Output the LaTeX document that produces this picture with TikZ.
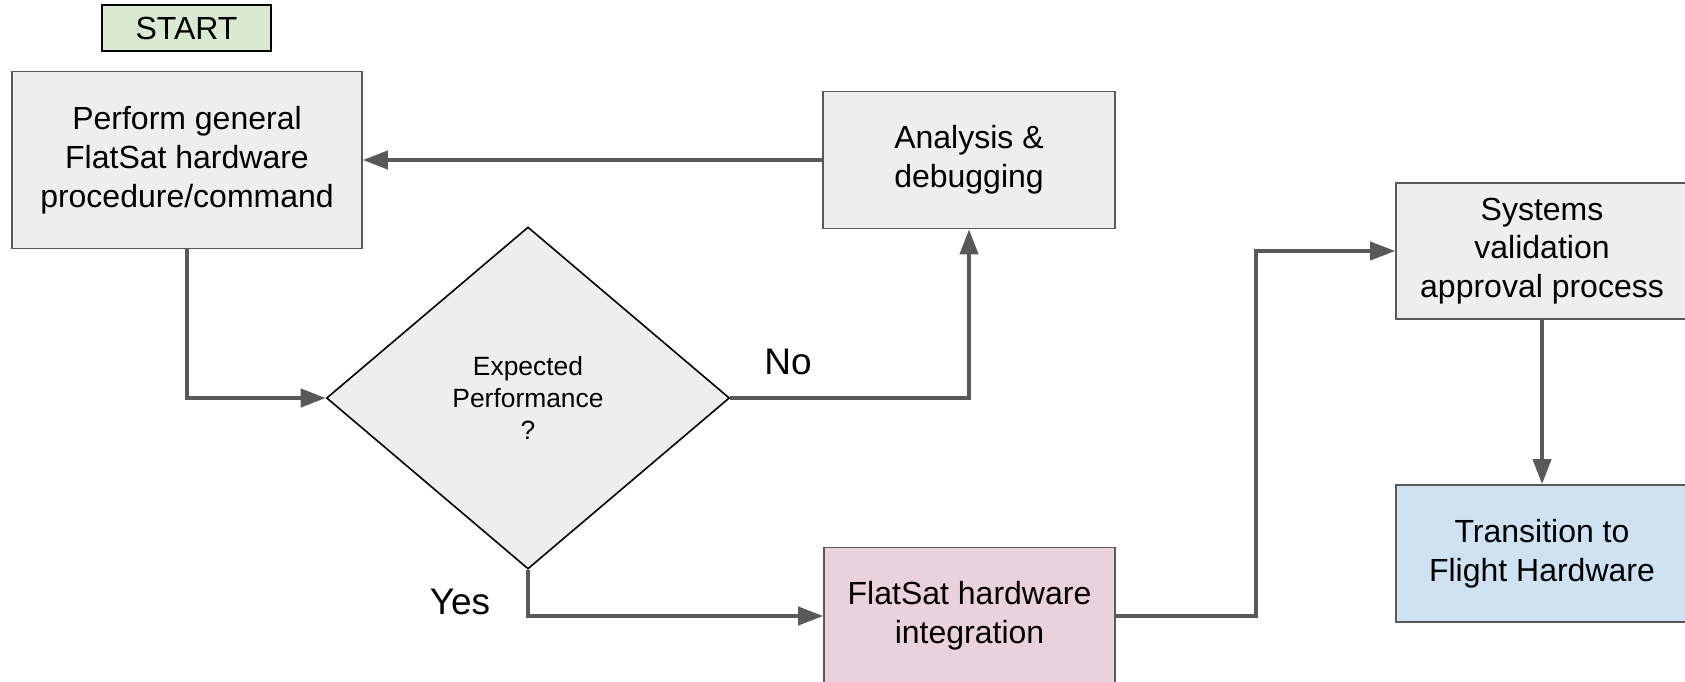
\documentclass[tikz,border=0pt]{standalone}
\usepackage{fontspec}
\setmainfont{Liberation Sans}
\usepackage{tikz}
\usetikzlibrary{shapes.geometric}
\usetikzlibrary{arrows.meta}
\usetikzlibrary{calc}

\definecolor{boxgray}{HTML}{EEEEEE}
\definecolor{linegray}{HTML}{595959}
\definecolor{startgreen}{HTML}{D9EAD3}
\definecolor{intpink}{HTML}{EAD1DC}
\definecolor{flightblue}{HTML}{CFE2F3}

\begin{document}
\begin{tikzpicture}[x=0.5pt,y=-0.5pt]
    \newcommand{\boxfont}{\fontsize{16pt}{19.4pt}\selectfont}
    \tikzstyle{dedge} = [line width=2pt,->,>={Triangle[length=12.5pt,width=9pt]},draw=linegray]
    \tikzstyle{procbox}=[
      rectangle,
      draw=linegray,
      fill=boxgray,
      line width=0.8pt,
      align=center,
      anchor=center,
      inner sep=0pt,
      font=\boxfont,
    ]
    \tikzstyle{decision}=[
      diamond,
      draw=black,
      fill=boxgray,
      line width=0.8pt,
      align=center,
      inner sep=0pt,
      minimum width=201.5pt,
      minimum height=171pt,
      font=\fontsize{13.2pt}{15.9pt}\selectfont,
    ]
    \tikzstyle{answer}=[font=\fontsize{18.5pt}{22pt}\selectfont,inner sep=0pt]

    \useasboundingbox (0,0) rectangle (1685,681);

    \node[procbox,draw=black,fill=startgreen,minimum width=84.5pt,minimum height=23pt] (nStart) at (186.5,28) {START};
    \node[procbox,minimum width=175pt,minimum height=88.5pt] (nPerform) at (187,160) {Perform general\\FlatSat hardware\\procedure/command};
    \node[procbox,minimum width=146pt,minimum height=68.5pt] (nAnalysis) at (969,160) {Analysis \&\\debugging};
    \node[decision] (nExpected) at (528,398) {Expected\\Performance\\?};
    \node[procbox,fill=intpink,minimum width=145.5pt,minimum height=68.5pt] (nIntegration) at (969.5,616) {FlatSat hardware\\integration};
    \node[procbox,minimum width=146pt,minimum height=68pt] (nSystems) at (1542,251) {Systems\\validation\\approval process};
    \node[procbox,fill=flightblue,minimum width=146pt,minimum height=68.5pt] (nFlight) at (1542,553.5) {Transition to\\Flight Hardware};

    \node[answer] (nNo) at (788,362) {No};
    \node[answer] (nYes) at (460,602) {Yes};

    \draw[dedge] (nPerform.south) |- (nExpected.west);
    \draw[dedge] (nExpected.east) -| (nAnalysis.south);
    \draw[dedge] (nAnalysis.west) -- (nPerform.east);
    \draw[dedge] (nExpected.south) |- (nIntegration.west);
    \draw[dedge] (nIntegration.east) -- ([xshift=70pt]nIntegration.east) |- (nSystems.west);
    \draw[dedge] (nSystems.south) -- (nFlight.north);
  \end{tikzpicture}
\end{document}
